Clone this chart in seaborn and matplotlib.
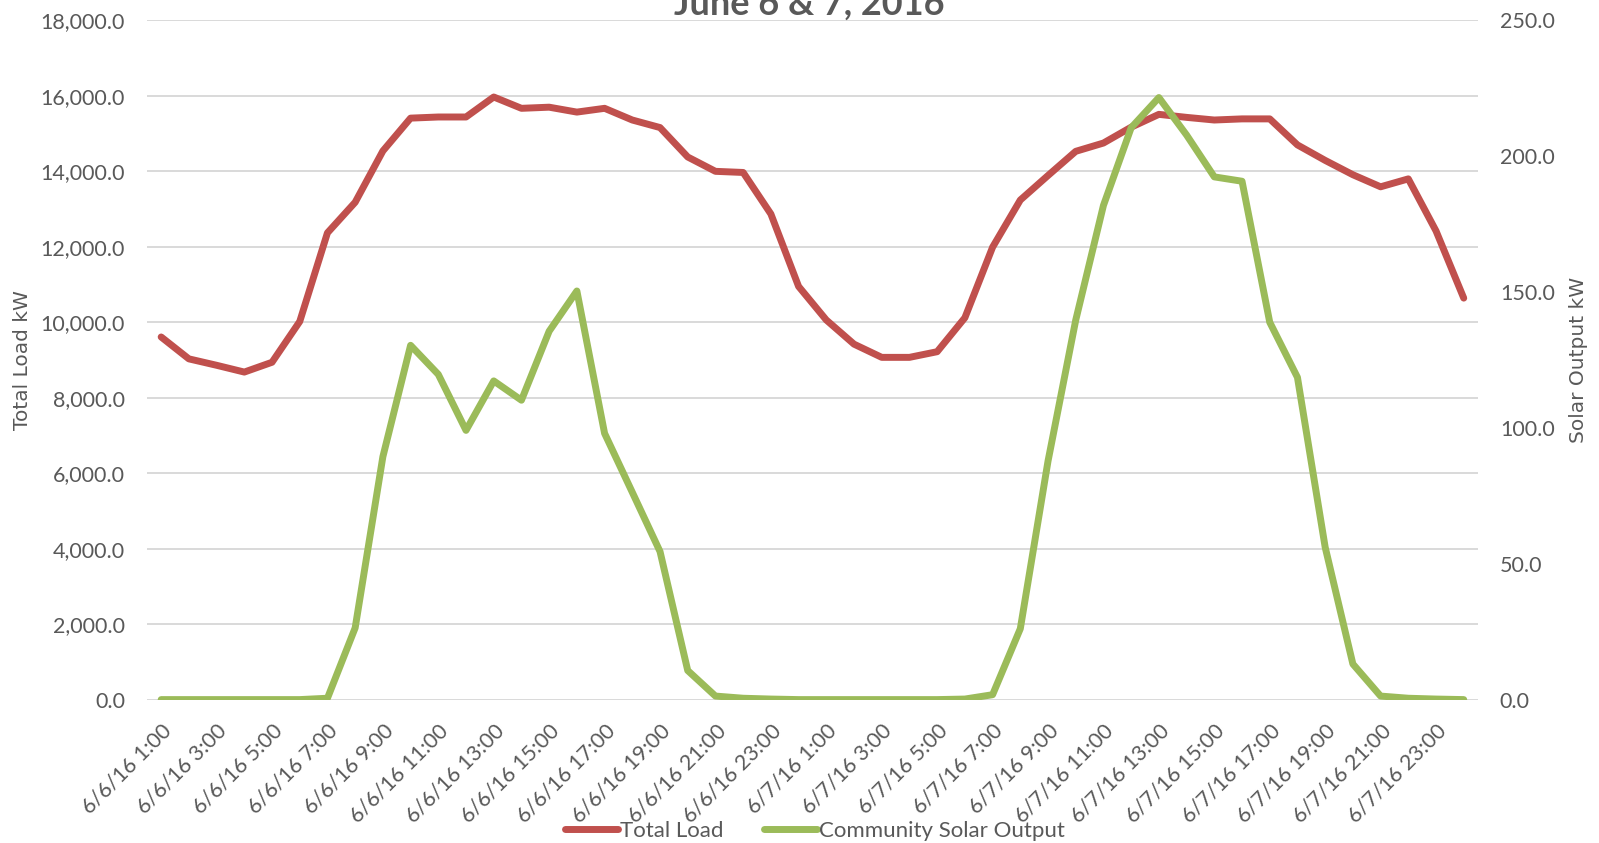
import matplotlib
matplotlib.use("Agg")
import matplotlib.pyplot as plt
from matplotlib.lines import Line2D
from matplotlib.ticker import FuncFormatter, MultipleLocator
import seaborn as sns
import pandas as pd

# ---- data ----
hours_day1 = [f"6/6/16 {h}:00" for h in range(1, 24)]
hours_day2 = [f"6/7/16 {h}:00" for h in range(0, 24)]
timestamps = hours_day1 + hours_day2 + ["6/8/16 0:00"]

total_load = [
    9610, 9030, 8860, 8680, 8940, 10020, 12370, 13180, 14540, 15410, 15440, 15440,
    15970, 15670, 15700, 15570, 15670, 15360, 15160, 14380, 14000, 13970, 12870, 10950,
    10060, 9420, 9070, 9070, 9220, 10120, 11990, 13240, 13890, 14530, 14750, 15170,
    15510, 15430, 15360, 15390, 15390, 14700, 14290, 13910, 13590, 13800, 12420, 10640,
]
solar_output = [
    0.0, 0.0, 0.0, 0.0, 0.0, 0.0, 0.5, 26.4, 89.4, 130.4, 119.7, 99.1,
    117.3, 110.2, 135.6, 150.4, 98.0, 76.3, 54.5, 10.7, 1.3, 0.5, 0.2, 0.0,
    0.0, 0.0, 0.0, 0.0, 0.0, 0.2, 1.8, 26.1, 87.8, 139.7, 181.9, 210.5,
    221.6, 207.8, 192.4, 190.8, 138.9, 118.6, 56.1, 13.1, 1.3, 0.5, 0.2, 0.0,
]

title = "June 6 & 7, 2016"
left_label = "Total Load kW"
right_label = "Solar Output kW"
series_names = ["Total Load", "Community Solar Output"]

df = pd.DataFrame({
    "pos": list(range(len(timestamps))),
    "time": timestamps,
    "load": total_load,
    "solar": solar_output,
})

# ---- style ----
sns.set_theme(style="white")
plt.rcParams["font.family"] = ["Lato", "DejaVu Sans"]
gray = "#595959"
red = "#C0504D"
green = "#9BBB59"
LW = 5.0

fig = plt.figure(figsize=(15.99, 8.43), dpi=100)
x0, x1 = 147.3, 1477.6
ax = fig.add_axes([x0 / 1599, 1 - 699.6 / 843, (x1 - x0) / 1599, (699.6 - 20.4) / 843])
ax2 = ax.twinx()

sns.lineplot(data=df, x="pos", y="load", ax=ax, color=red, lw=LW,
             solid_capstyle="round", solid_joinstyle="round", legend=False)
sns.lineplot(data=df, x="pos", y="solar", ax=ax2, color=green, lw=LW,
             solid_capstyle="round", solid_joinstyle="round", legend=False)

ax.set_xlim(-0.5, len(timestamps) - 0.5)
ax.set_ylim(0, 18000)
ax2.set_ylim(0, 250)
ax.yaxis.set_major_locator(MultipleLocator(2000))
ax2.yaxis.set_major_locator(MultipleLocator(50))
ax.yaxis.set_major_formatter(FuncFormatter(lambda v, p: f"{v:,.1f}"))
ax2.yaxis.set_major_formatter(FuncFormatter(lambda v, p: f"{v:,.1f}"))

tick_pos = df["pos"].tolist()[::2]
ax.set_xticks(tick_pos)
ax.set_xticklabels(df["time"].tolist()[::2], rotation=45, ha="right", va="top",
                   rotation_mode="anchor")

for a in (ax, ax2):
    for s in a.spines.values():
        s.set_visible(False)
    a.tick_params(axis="both", length=0, labelsize=15.5, labelcolor=gray)
ax.tick_params(axis="y", pad=16)
ax2.tick_params(axis="y", pad=16)
ax.tick_params(axis="x", pad=15)

ax.grid(axis="y", color="#D9D9D9", lw=1.4)
ax.grid(axis="x", visible=False)
ax2.grid(False)
ax.set_axisbelow(True)

ax.set_xlabel("")
ax.set_ylabel(left_label, fontsize=14.5, color=gray, family="DejaVu Sans", labelpad=0)
ax2.set_ylabel(right_label, fontsize=14.5, color=gray, family="DejaVu Sans", labelpad=0)
ax.yaxis.set_label_coords((32 - x0) / (x1 - x0), 0.5)
ax2.yaxis.set_label_coords((1569 - x0) / (x1 - x0), 0.5)

fig.text(809 / 1599, 1 - 15 / 843, title, ha="center", va="baseline",
         fontsize=26, fontweight="bold", color=gray)

handles = [Line2D([], [], color=red, lw=LW, solid_capstyle="round"),
           Line2D([], [], color=green, lw=LW, solid_capstyle="round")]
fig.legend(handles, series_names, loc="center", bbox_to_anchor=(815 / 1599, 1 - 831 / 843),
           ncol=2, frameon=False, fontsize=16, labelcolor=gray, handlelength=2.4,
           handletextpad=0.1, columnspacing=1.8, borderpad=0, borderaxespad=0)

fig.savefig("out.png", dpi=100)
